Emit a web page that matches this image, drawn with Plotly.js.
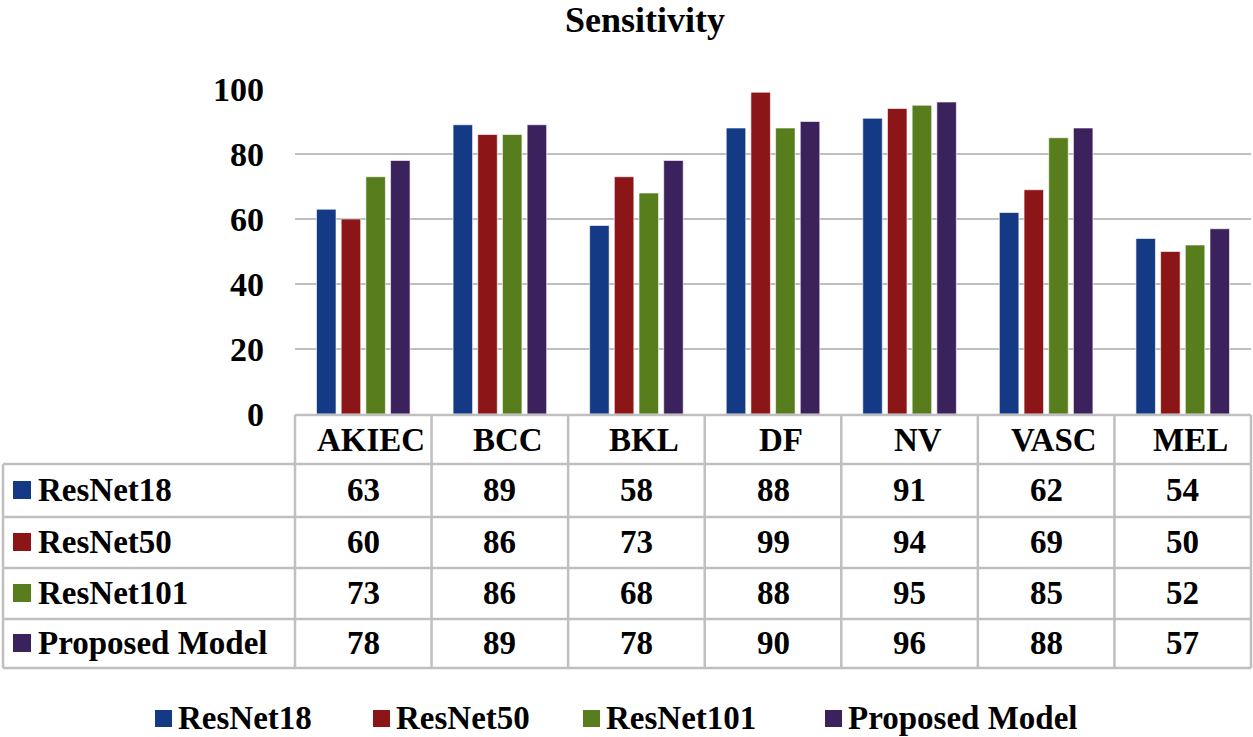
<!DOCTYPE html>
<html>
<head>
<meta charset="utf-8">
<script src="https://cdn.plot.ly/plotly-3.0.1.min.js"></script>
<style>html,body{margin:0;padding:0;background:#fff;}#chart{width:1253px;height:737px;}</style>
</head>
<body>
<div id="chart"></div>
<script>
const categories = ["AKIEC", "BCC", "BKL", "DF", "NV", "VASC", "MEL"];
const seriesNames = ["ResNet18", "ResNet50", "ResNet101", "Proposed Model"];
const resnet18 = [63, 89, 58, 88, 91, 62, 54];
const resnet50 = [60, 86, 73, 99, 94, 69, 50];
const resnet101 = [73, 86, 68, 88, 95, 85, 52];
const proposed = [78, 89, 78, 90, 96, 88, 57];
const yTicks = [0, 20, 40, 60, 80, 100];

const seriesValues = [resnet18, resnet50, resnet101, proposed];
const colors = ["#143a86", "#8b1517", "#577d1c", "#3b225c"];
const FONT = "Liberation Serif, Times New Roman, serif";

// geometry (pixels)
const W = 1253, H = 737;
const plotL = 295, plotR = 1251, plotT = 89, plotB = 414;
const plotW = plotR - plotL, plotH = plotB - plotT;
const px2x = p => (p - plotL) / plotW;
const py2y = p => (plotB - p) / plotH;

const traces = seriesValues.map((vals, i) => ({
  type: "bar",
  name: seriesNames[i],
  x: categories,
  y: vals,
  marker: {color: colors[i], line: {color: "rgba(255,255,255,0.6)", width: 1}},
  showlegend: false,
  hoverinfo: "x+y+name"
}));

const shapes = [];
const annotations = [];
const gray = "#bfbfbf";
const rowLines = [464, 517, 568, 619, 668];
const rowCenters = [490, 542, 593, 643];
const TS = 33;

// horizontal table lines
shapes.push({type: "line", xref: "paper", yref: "paper", x0: px2x(plotL), x1: px2x(plotR), y0: py2y(415), y1: py2y(415), line: {color: gray, width: 2.5}});
rowLines.forEach(py => shapes.push({type: "line", xref: "paper", yref: "paper", x0: px2x(3), x1: px2x(plotR), y0: py2y(py), y1: py2y(py), line: {color: gray, width: 2.5}}));
// vertical lines
shapes.push({type: "line", xref: "paper", yref: "paper", x0: px2x(3), x1: px2x(3), y0: py2y(464), y1: py2y(668), line: {color: gray, width: 2.5}});
for (let k = 0; k <= categories.length; k++) {
  const xx = px2x(plotL + plotW * k / categories.length);
  shapes.push({type: "line", xref: "paper", yref: "paper", x0: xx, x1: xx, y0: py2y(415), y1: py2y(668), line: {color: gray, width: 2.5}});
}

// header labels
categories.forEach((c, j) => annotations.push({
  xref: "x", yref: "paper", x: c, y: py2y(440), text: c, showarrow: false, xshift: 8,
  xanchor: "center", yanchor: "middle", font: {family: FONT, size: TS, color: "#000", weight: "bold"}
}));
// values
seriesValues.forEach((vals, i) => {
  vals.forEach((v, j) => annotations.push({
    xref: "x", yref: "paper", x: categories[j], y: py2y(rowCenters[i]), text: String(v), showarrow: false,
    xanchor: "center", yanchor: "middle", font: {family: FONT, size: TS, color: "#000", weight: "bold"}
  }));
  // row label key
  shapes.push({type: "rect", xref: "paper", yref: "paper", x0: px2x(13), x1: px2x(31), y0: py2y(rowCenters[i] + 9), y1: py2y(rowCenters[i] - 9), fillcolor: colors[i], line: {width: 0}});
  annotations.push({
    xref: "paper", yref: "paper", x: px2x(36), y: py2y(rowCenters[i]), text: seriesNames[i], showarrow: false,
    xanchor: "left", yanchor: "middle", font: {family: FONT, size: TS, color: "#000", weight: "bold"}
  });
});

// bottom legend
const legSq = [155, 373, 583, 825];
const legY = 718;
seriesNames.forEach((n, i) => {
  shapes.push({type: "rect", xref: "paper", yref: "paper", x0: px2x(legSq[i]), x1: px2x(legSq[i] + 17), y0: py2y(legY + 9), y1: py2y(legY - 8), fillcolor: colors[i], line: {width: 0}});
  annotations.push({
    xref: "paper", yref: "paper", x: px2x(legSq[i] + 21), y: py2y(legY), text: n, showarrow: false,
    xanchor: "left", yanchor: "middle", font: {family: FONT, size: TS, color: "#000", weight: "bold"}
  });
});

// title
annotations.push({
  xref: "paper", yref: "paper", x: px2x(645), y: py2y(20), text: "Sensitivity", showarrow: false,
  xanchor: "center", yanchor: "middle", font: {family: FONT, size: 36, color: "#000", weight: "bold"}
});

const layout = {
  width: W, height: H,
  margin: {l: plotL, r: W - plotR, t: plotT, b: H - plotB, pad: 0},
  paper_bgcolor: "#fff", plot_bgcolor: "#fff",
  barmode: "group", bargap: 0.277, bargroupgap: 0.21,
  xaxis: {type: "category", range: [-0.5, 6.5], showticklabels: false, showgrid: false, zeroline: false, showline: false, ticks: "", fixedrange: true},
  yaxis: {range: [0, 100], tickvals: yTicks, ticktext: yTicks.map(String), showgrid: true, gridcolor: gray, gridwidth: 2.5,
          zeroline: false, showline: false, ticks: "", ticklabelstandoff: 30,
          tickfont: {family: FONT, size: 34, color: "#000", weight: "bold"}, fixedrange: true},
  shapes: shapes,
  annotations: annotations,
  showlegend: false
};

Plotly.newPlot("chart", traces, layout, {displayModeBar: false, staticPlot: true});
</script>
</body>
</html>
